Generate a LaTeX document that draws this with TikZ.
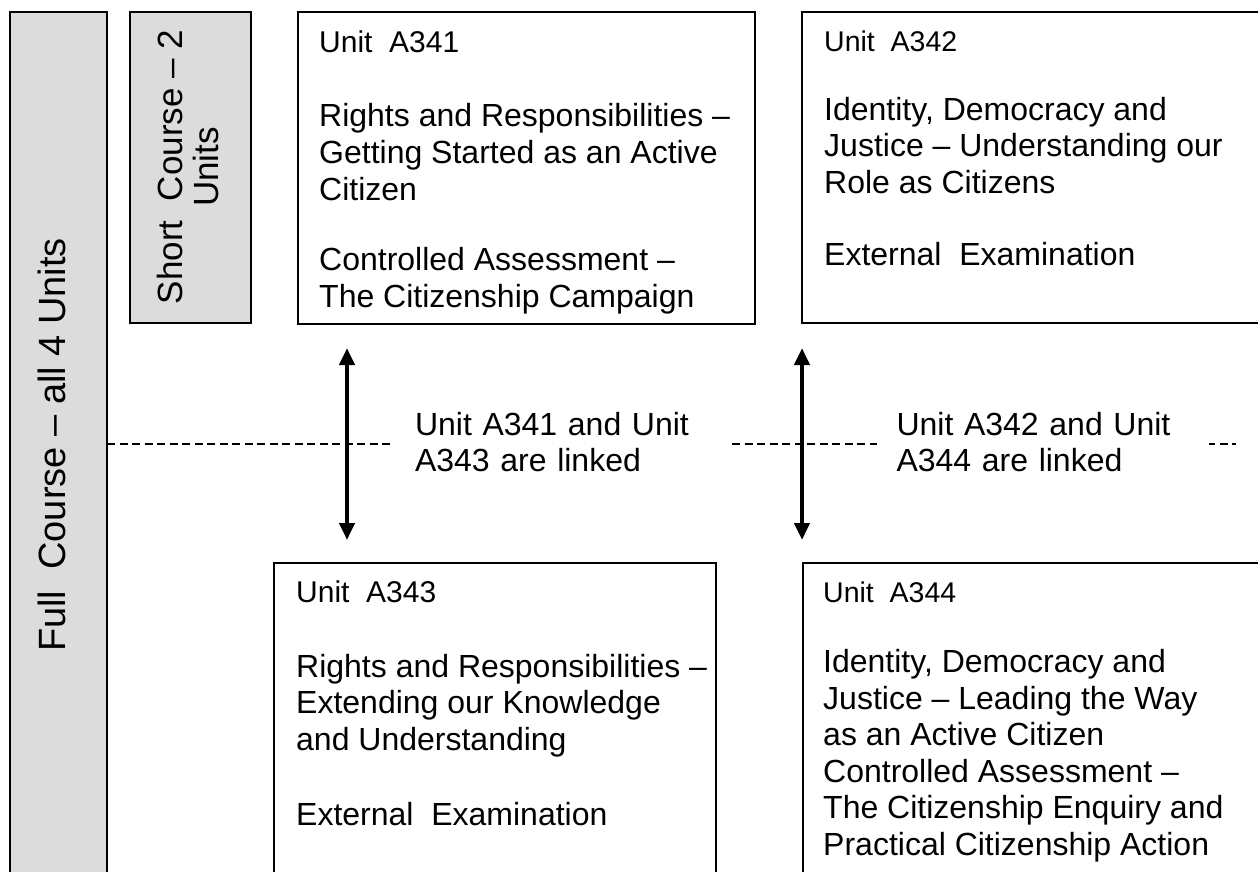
\documentclass[tikz,border=0pt]{standalone}
\usepackage{fontspec}
\setmainfont{Liberation Sans}
\usetikzlibrary{arrows.meta}
\definecolor{boxgray}{RGB}{220,220,220}
\begin{document}
\begin{tikzpicture}[x=1pt,y=-1pt,
  frame/.style={draw=black, line width=1.4pt, inner sep=0pt, outer sep=0pt, anchor=north west},
  graybox/.style={frame, fill=boxgray},
  unitbox/.style={frame, fill=white},
  body/.style={anchor=base west, inner sep=0pt, align=left, font=\fontsize{32}{37}\selectfont},
  linklabel/.style={anchor=base west, fill=white, inner ysep=4pt, outer sep=0pt, align=left, font=\fontsize{32}{36}\selectfont},
  dashline/.style={draw=black, line width=1.3pt, dash pattern=on 8pt off 4.5pt},
  link/.style={{Triangle[width=15pt,length=17pt]}-{Triangle[width=15pt,length=17pt]}, line width=4.5pt, draw=black}
]
\useasboundingbox (0,0) rectangle (1258,872);
\clip (0,0) rectangle (1258,872);

% boxes
\node[graybox, minimum width=97pt, minimum height=864pt] (full) at (10,12) {};
\node[graybox, minimum width=121pt, minimum height=311pt] (short) at (130,12) {};
\node[unitbox, minimum width=457pt, minimum height=312pt] (a341) at (298,12) {};
\node[unitbox, minimum width=470pt, minimum height=311pt] (a342) at (802,12) {};
\node[unitbox, minimum width=442pt, minimum height=330pt] (a343) at (274,563) {};
\node[unitbox, minimum width=470pt, minimum height=330pt] (a344) at (803,563) {};

% dashed divider
\coordinate (dashend) at (1236,444);
\draw[dashline] (full.east) -- (dashend);

% vertical labels
\node[rotate=90, anchor=base, inner sep=0pt, font=\fontsize{38}{40}\selectfont] (fulltext) at (65,445) {Full\ \ Course – all 4 Units};
\node[rotate=90, anchor=base, inner sep=0pt, align=center, font=\fontsize{35}{36}\selectfont] (shorttext) at (218,167) {Short\ \ Course – 2\\Units};

% unit texts (anchored at the baseline of their last line)
\node[body] (t341) at (319,307) {{\fontsize{30}{37}\selectfont Unit\ \ A341}\\[37pt]
Rights and Responsibilities –\\Getting Started as an Active\\Citizen\\[33pt]
Controlled Assessment –\\The Citizenship Campaign};

\node[body, font=\fontsize{32}{36.5}\selectfont] (t342) at (824,265) {{\fontsize{28.5}{36.5}\selectfont Unit\ \ A342}\\[32.5pt]
Identity, Democracy and\\Justice – Understanding our\\Role as Citizens\\[35.5pt]
External\ \ Examination};

\node[body, font=\fontsize{32}{36.5}\selectfont] (t343) at (296,825) {{\fontsize{30}{36.5}\selectfont Unit\ \ A343}\\[38.5pt]
Rights and Responsibilities –\\Extending our Knowledge\\and Understanding\\[38.5pt]
External\ \ Examination};

\node[body, font=\fontsize{32}{36.5}\selectfont] (t344) at (823,855) {{\fontsize{28.5}{36.5}\selectfont Unit\ \ A344}\\[33.5pt]
Identity, Democracy and\\Justice – Leading the Way\\as an Active Citizen\\Controlled Assessment –\\The Citizenship Enquiry and\\Practical Citizenship Action};

% link labels (anchored at the baseline of their first line)
\node[linklabel, text width=294pt, inner xsep=21pt] (lab1) at (394,435) {Unit A341 and Unit\\A343 are linked};
\node[linklabel, text width=293pt, inner xsep=19.5pt] (lab2) at (877,435) {Unit A342 and Unit\\A344 are linked};

% arrows
\coordinate (a1t) at (347,348);
\coordinate (a1b) at (347,540);
\coordinate (a2t) at (802,348);
\coordinate (a2b) at (802,540);
\draw[link] (a1t) -- (a1b);
\draw[link] (a2t) -- (a2b);
\end{tikzpicture}
\end{document}
